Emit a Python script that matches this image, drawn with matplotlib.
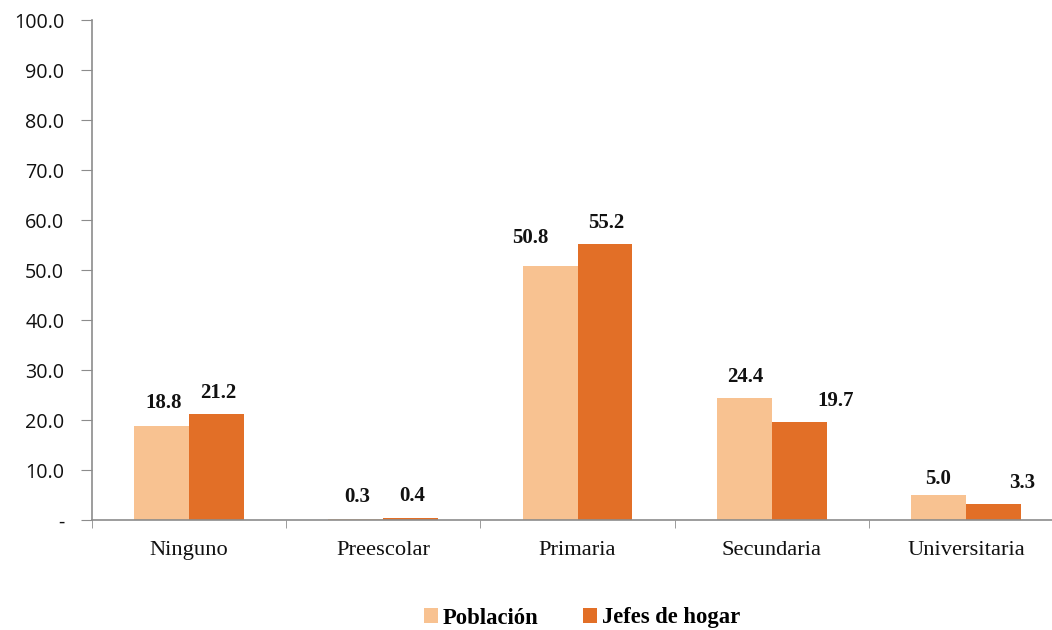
import matplotlib
matplotlib.use("Agg")
import matplotlib.pyplot as plt
import numpy as np
from matplotlib.ticker import FixedLocator, FixedFormatter

categories = ["Ninguno", "Preescolar", "Primaria", "Secundaria", "Universitaria"]
poblacion = [18.8, 0.3, 50.8, 24.4, 5.0]
jefes = [21.2, 0.4, 55.2, 19.7, 3.3]
series_names = ["Población", "Jefes de hogar"]
yticks = [0, 10, 20, 30, 40, 50, 60, 70, 80, 90, 100]
ytick_labels = ["-" if v == 0 else f"{v:.1f}" for v in yticks]

col_pob = "#F8C291"
col_jef = "#E26F27"
spine_col = "#8C8C8C"

# label offsets (pixels) relative to bar top-center
off_pob = [(2, 23), (1, 22), (-20, 28), (1, 21), (0, 16)]
off_jef = [(2, 21), (1, 22), (1, 21), (36, 21), (29, 20)]

fig = plt.figure(figsize=(10.52, 6.3), dpi=100)
ax = fig.add_axes([92/1052, 110/630, 971/1052, 500/630])

x = np.arange(len(categories))
w = 0.283
b1 = ax.bar(x - w/2, poblacion, w, color=col_pob, label=series_names[0])
b2 = ax.bar(x + w/2, jefes, w, color=col_jef, label=series_names[1])

for bars, vals, offs in ((b1, poblacion, off_pob), (b2, jefes, off_jef)):
    for r, v, (dx, dy) in zip(bars, vals, offs):
        ax.annotate(f"{v:.1f}", (r.get_x() + r.get_width()/2, v),
                    xytext=(dx, dy), textcoords="offset pixels",
                    ha="center", va="center", fontsize=15, fontweight="bold",
                    family="Liberation Serif", color="#111111")

ax.set_xlim(-0.5, len(categories) - 0.5)
ax.set_ylim(0, 100)
ax.yaxis.set_major_locator(FixedLocator(yticks))
ax.yaxis.set_major_formatter(FixedFormatter(ytick_labels))
for t in ax.get_yticklabels():
    t.set_family("Open Sans")
    t.set_fontsize(14.2)
    t.set_color("#111111")
ax.tick_params(axis="y", direction="out", length=8, color=spine_col, pad=12)

ax.set_xticks(x)
ax.set_xticklabels(categories, family="Liberation Serif", fontsize=16.2, color="#111111")
ax.tick_params(axis="x", which="major", length=0, pad=15)
ax.set_xticks(np.arange(-0.5, len(categories)), minor=True)
ax.tick_params(axis="x", which="minor", direction="out", length=6, color=spine_col)

for s in ("top", "right"):
    ax.spines[s].set_visible(False)
for s in ("left", "bottom"):
    ax.spines[s].set_color(spine_col)
    ax.spines[s].set_linewidth(1.2)

leg = fig.legend(handles=[b1, b2], labels=series_names, loc="center",
                 bbox_to_anchor=(582/1052, 1 - 618/630), ncol=2, frameon=False,
                 prop={"family": "Liberation Serif", "weight": "bold", "size": 16.3},
                 handlelength=0.62, handleheight=0.62, handletextpad=0.2, columnspacing=2.0)

fig.savefig("out.png", dpi=100)
